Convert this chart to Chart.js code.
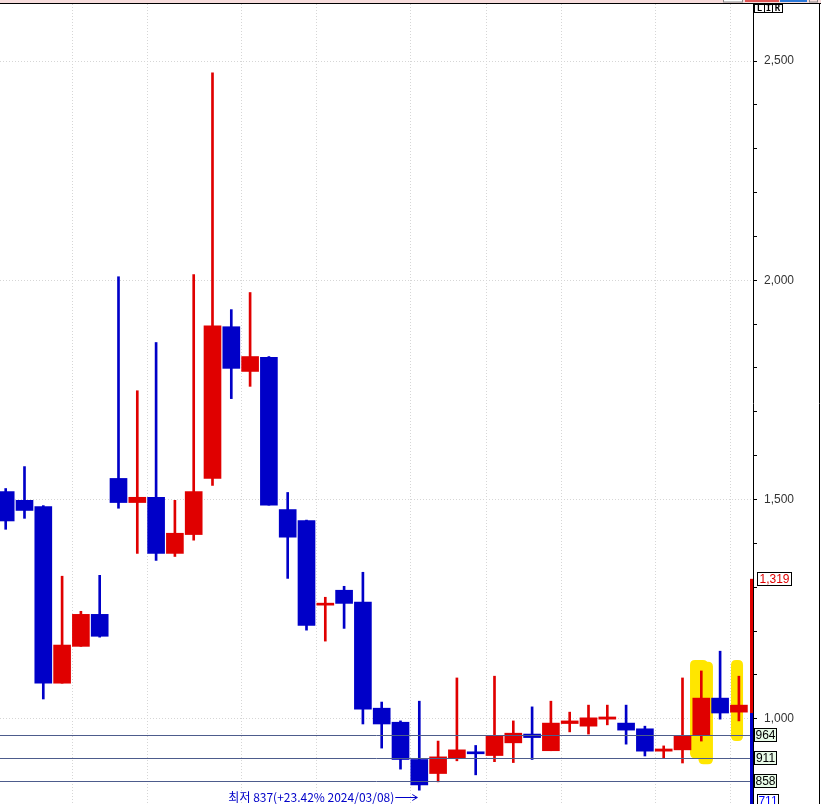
<!DOCTYPE html>
<html><head><meta charset="utf-8">
<script src="https://cdn.jsdelivr.net/npm/chart.js"></script>
<style>html,body{margin:0;padding:0;background:#fff;overflow:hidden}canvas{display:block}</style>
</head><body>
<canvas id="c" width="821" height="804"></canvas>
<script>
// ---- data ----
const openPrices  = [1518,1498,1484,1081,1165,1238,1548,1493,1505,1377,1420,1548,1894,1792,1824,1477,1452,1259,1293,1266,1024,992,907,875,911,922,916,945,965,927,989,983,999,990,977,926,929,963,1047,1015];
const highPrices  = [1525,1575,1486,1325,1245,1327,2008,1748,1858,1498,2013,2473,1933,1972,1826,1516,1453,1277,1302,1334,1038,995,1040,949,1093,939,1097,995,1027,1040,1015,1031,1031,1031,983,938,1093,1109,1154,1097];
const lowPrices   = [1432,1457,1045,1081,1165,1186,1480,1377,1361,1370,1407,1532,1730,1758,1487,1320,1202,1177,1206,988,933,885,837,856,904,872,902,900,907,927,970,965,986,942,915,910,899,949,999,995];
const closePrices = [1451,1475,1081,1168,1238,1188,1493,1505,1377,1423,1518,1896,1799,1826,1487,1414,1213,1261,1263,1022,988,907,849,913,929,920,961,967,957,990,995,1002,1004,974,926,931,961,1047,1013,1031];
const weekEnds = [3,7,12,16,21,25,29,34,38];
const yLabelStep = 500;
const refLines = [964, 911, 858];
const lastPrice = 1319;
const axisSplit = 1013;
const bottomLabel = 711;
const lowIndex = 22;
const lowValue = 837;
const lowText = '최저 837(+23.42% 2024/03/08)';
// highlighter marks: [fromIndex, toIndex, topValue, bottomValue]
const highlightBoxes = [[36.4,37.35,1134,910],[36.85,37.62,1130,896],[38.58,39.22,1134,949]];

const UP = '#e00000', DOWN = '#0000c8';
const idx = openPrices.map((_, i) => i);
const colors = idx.map(i => closePrices[i] >= openPrices[i] ? UP : DOWN);

function rr(c, x, y, w, h, r){
  c.beginPath();
  c.moveTo(x+r,y); c.lineTo(x+w-r,y); c.quadraticCurveTo(x+w,y,x+w,y+r);
  c.lineTo(x+w,y+h-r); c.quadraticCurveTo(x+w,y+h,x+w-r,y+h);
  c.lineTo(x+r,y+h); c.quadraticCurveTo(x,y+h,x,y+h-r);
  c.lineTo(x,y+r); c.quadraticCurveTo(x,y,x+r,y); c.closePath();
}
function box(c, text, left, cy, w, bg, fg){
  const top = Math.round(cy - 6.5);
  c.fillStyle = bg; c.fillRect(left+0.5, top+0.5, w, 13);
  c.strokeStyle = '#000'; c.lineWidth = 1; c.strokeRect(left+0.5, top+0.5, w, 13);
  c.fillStyle = fg; c.font = '12px "Liberation Sans"'; c.textAlign = 'center'; c.textBaseline = 'middle';
  c.fillText(text, left + w/2 + 0.5, top + 7.5);
}

const decor = {
  id: 'decor',
  beforeDraw(chart){
    const c = chart.ctx; c.save(); c.fillStyle = '#fff'; c.fillRect(0,0,chart.width,chart.height); c.restore();
  },
  beforeDatasetsDraw(chart){
    const {ctx: c, scales: {x, y}} = chart;
    c.save(); c.fillStyle = '#ffe600';
    highlightBoxes.forEach(([i0,i1,vt,vb]) => {
      const l = x.getPixelForValue(i0), r = x.getPixelForValue(i1), t = y.getPixelForValue(vt), b = y.getPixelForValue(vb);
      rr(c, l, t, r-l, b-t, 5); c.fill();
    });
    c.restore();
  },
  afterDatasetsDraw(chart){
    const {ctx: c, scales: {x, y}, chartArea: a} = chart;
    c.save();
    c.strokeStyle = '#4d5c8c'; c.lineWidth = 1;
    refLines.forEach(v => { const py = Math.round(y.getPixelForValue(v)) + 0.5; c.beginPath(); c.moveTo(a.left, py); c.lineTo(a.right, py); c.stroke(); });
    // range bar on the axis
    const pTop = y.getPixelForValue(lastPrice), pSplit = y.getPixelForValue(axisSplit);
    c.fillStyle = '#e00000'; c.fillRect(a.right-3, pTop, 3, pSplit-pTop);
    c.fillStyle = '#0000c8'; c.fillRect(a.right-3, pSplit, 3, a.bottom-pSplit);
    // low annotation
    const lx = x.getPixelForValue(lowIndex) - 2, ly = Math.round(y.getPixelForValue(lowValue)) + 7;
    c.strokeStyle = '#0000c8'; c.fillStyle = '#0000c8'; c.lineWidth = 1;
    c.beginPath(); c.moveTo(lx-22, ly+0.5); c.lineTo(lx, ly+0.5);
    c.moveTo(lx-5, ly-2.5); c.lineTo(lx, ly+0.5); c.lineTo(lx-5, ly+3.5); c.stroke();
    c.font = '12px "Noto Sans CJK KR"'; c.textAlign = 'right'; c.textBaseline = 'middle';
    c.fillText(lowText, lx-23, ly+0.5);
    c.restore();
  },
  afterDraw(chart){
    const {ctx: c, scales: {y}, chartArea: a} = chart;
    c.save();
    // axis line and right frame
    c.strokeStyle = '#000'; c.lineWidth = 1;
    c.beginPath(); c.moveTo(a.right+0.5, 3); c.lineTo(a.right+0.5, chart.height); c.stroke();
    c.beginPath(); c.moveTo(819.5, 3); c.lineTo(819.5, chart.height); c.stroke();
    // top strip
    c.fillStyle = '#f6dcdc'; c.fillRect(0,0,chart.width,3);
    c.fillStyle = '#000'; c.fillRect(0,3,chart.width,1);
    c.fillStyle = '#ffffff'; c.fillRect(723,0,19,2); c.strokeStyle='#888'; c.strokeRect(723.5,-0.5,19,2.5);
    c.fillStyle = '#e05555'; c.fillRect(745,0,34,2);
    c.fillStyle = '#2a78d8'; c.fillRect(780,0,27,2);
    c.strokeStyle='#888'; c.strokeRect(809.5,-0.5,8,2.5);
    // L I R buttons
    c.strokeStyle = '#000';
    [[754,10,'L'],[764,8,'I'],[772,10,'R']].forEach(([bx,w,t]) => {
      c.fillStyle='#fff'; c.fillRect(bx+0.5, 4.5, w, 8); c.strokeRect(bx+0.5, 4.5, w, 8);
      c.fillStyle='#000'; c.font='bold 9px "DejaVu Sans Mono"'; c.textAlign='center'; c.textBaseline='middle';
      c.fillText(t, bx + w/2 + 0.5, 9);
    });
    // price boxes
    box(c, lastPrice.toLocaleString('en-US'), 757, y.getPixelForValue(lastPrice), 34, '#ffffff', '#e00000');
    refLines.forEach(v => box(c, String(v), 754, y.getPixelForValue(v), 22, '#e8fbe8', '#000'));
    box(c, String(bottomLabel), 757, a.bottom - 3.5, 21, '#ffffff', '#0000ff');
    c.restore();
  }
};

new Chart(document.getElementById('c'), {
  type: 'bar',
  data: {
    datasets: [
      { label: 'body', data: idx.map(i => ({x: i, y: [Math.min(openPrices[i], closePrices[i]), Math.max(openPrices[i], closePrices[i])]})),
        backgroundColor: colors, borderWidth: 0, barThickness: 17, minBarLength: 2, grouped: false, order: 0 },
      { label: 'wick', data: idx.map(i => ({x: i, y: [lowPrices[i], highPrices[i]]})),
        backgroundColor: colors, borderWidth: 0, barThickness: 2, grouped: false, order: 1 }
    ]
  },
  options: {
    responsive: false, animation: false, events: [],
    layout: {padding: {top: 4, left: 0, right: 0, bottom: 0}},
    plugins: {legend: {display: false}, tooltip: {enabled: false}},
    scales: {
      x: {
        type: 'linear', position: 'bottom', min: -0.303, max: 39.75, offset: false,
        afterBuildTicks: s => { s.ticks = weekEnds.map(w => ({value: w + 0.55})); },
        ticks: {display: false},
        grid: {color: '#d6d6d6', drawTicks: false, lineWidth: 1, offset: false},
        border: {display: false, dash: [1, 2]},
        afterFit: s => { s.height = 0; s.paddingLeft = 0; s.paddingRight = 0; s.paddingTop = 0; s.paddingBottom = 0; }
      },
      y: {
        type: 'linear', position: 'right', min: 805.5, max: 2630,
        afterBuildTicks: s => { s.ticks = s.ticks.filter(t => Math.abs(t.value % 100) < 1e-6); },
        ticks: {stepSize: 100, autoSkip: false, padding: 7, color: '#333',
          font: {family: 'Liberation Sans', size: 12},
          callback: v => (v % yLabelStep === 0) ? v.toLocaleString('en-US') : ''},
        grid: {color: c => (c.tick && c.tick.value % yLabelStep === 0) ? '#d6d6d6' : 'rgba(0,0,0,0)',
          tickColor: '#000', tickLength: 4, drawTicks: true, lineWidth: 1},
        border: {display: false, dash: [1, 2]},
        afterFit: s => { s.width = 68; s.paddingTop = 0; s.paddingBottom = 0; }
      }
    }
  },
  plugins: [decor]
});
</script>
</body></html>
